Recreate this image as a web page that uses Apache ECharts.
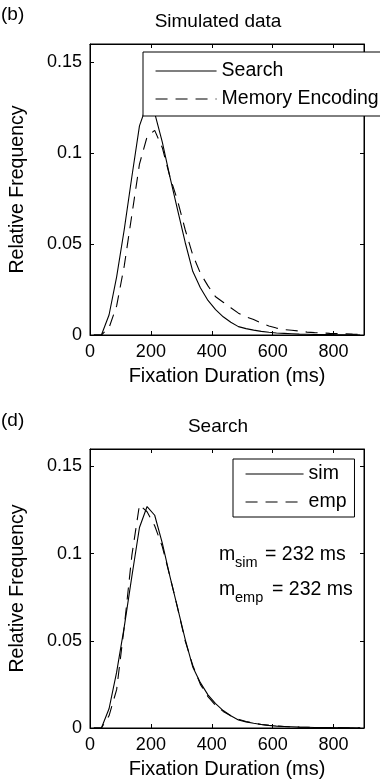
<!DOCTYPE html>
<html>
<head>
<meta charset="utf-8">
<script src="https://cdn.jsdelivr.net/npm/echarts@6/dist/echarts.min.js"></script>
<style>
    html, body { margin: 0; padding: 0; background: #fff; }
    #id-div-chart { width: 380px; height: 780px; }
</style>
</head>
<body>
<div id="id-div-chart"></div>
<script>
// bin centers (ms)
const durations = [12.5, 37.5, 62.5, 87.5, 112.5, 137.5, 162.5, 187.5, 212.5, 237.5,
    262.5, 287.5, 312.5, 337.5, 362.5, 387.5, 412.5, 437.5, 462.5, 487.5,
    512.5, 537.5, 562.5, 587.5, 612.5, 637.5, 662.5, 687.5, 712.5, 737.5,
    762.5, 787.5, 812.5, 837.5, 862.5, 887.5]

// simulated search fixations (panel b solid, panel d sim)
const searchSim = [0, 0, 0.011, 0.032, 0.058, 0.087, 0.115, 0.127, 0.122, 0.106,
    0.087, 0.069, 0.051, 0.035, 0.026, 0.019, 0.014, 0.010, 0.007, 0.0046,
    0.0035, 0.0027, 0.002, 0.0015, 0.0011, 0.0009, 0.0007, 0.0005, 0.0004, 0.0003,
    0.0002, 0.0002, 0.0001, 0.0001, 0.0001, 0]

// simulated memory encoding fixations (panel b dashed)
const memorySim = [0, 0, 0.004, 0.016, 0.038, 0.066, 0.094, 0.109, 0.1125, 0.103,
    0.087, 0.074, 0.058, 0.044, 0.034, 0.027, 0.021, 0.018, 0.015, 0.012,
    0.010, 0.0085, 0.0065, 0.005, 0.0038, 0.003, 0.0026, 0.0022, 0.0016, 0.0013,
    0.0011, 0.0009, 0.0008, 0.0007, 0.0005, 0.0004]

// empirical search fixations (panel d dashed)
const searchEmp = [0, 0, 0.007, 0.022, 0.058, 0.099, 0.128, 0.124, 0.116, 0.104,
    0.087, 0.069, 0.050, 0.036, 0.025, 0.018, 0.013, 0.0095, 0.007, 0.005,
    0.0037, 0.0028, 0.002, 0.0015, 0.0012, 0.0009, 0.0007, 0.0005, 0.0004, 0.0003,
    0.0003, 0.0002, 0.0002, 0.0001, 0.0001, 0.0001]

const xTicks = [0, 200, 400, 600, 800]
const yTicks = [0, 0.05, 0.1, 0.15]

const font = 'Liberation Sans, Arial, Helvetica, sans-serif'
const dash = [12, 8]

const pairs = function (xs, ys) {
    let r = []
    for (let i = 0; i < xs.length; i++) {
        r.push([xs[i], ys[i]])
    }
    return r
}

// bottom/left axes with labels, top/right just for ticks
const xAxisFor = function (grid, pos) {
    let main = pos === 'bottom'
    return {
        gridIndex: grid,
        type: 'value',
        position: pos,
        min: xTicks[0],
        max: 900,
        interval: xTicks[1] - xTicks[0],
        axisLine: { show: true, onZero: false, lineStyle: { color: '#000', width: 1 } },
        axisTick: { show: true, inside: true, length: 4, lineStyle: { color: '#000' } },
        axisLabel: {
            show: main,
            showMaxLabel: false,
            margin: 8,
            fontSize: 18,
            color: '#000',
            fontFamily: font,
        },
        splitLine: { show: false },
        name: main ? 'Fixation Duration (ms)' : '',
        nameLocation: 'middle',
        nameGap: 31,
        nameTextStyle: { fontSize: 20, color: '#000', fontFamily: font },
    }
}

const yAxisFor = function (grid, pos) {
    let main = pos === 'left'
    return {
        gridIndex: grid,
        type: 'value',
        position: pos,
        min: yTicks[0],
        max: 0.16,
        interval: yTicks[1] - yTicks[0],
        axisLine: { show: true, onZero: false, lineStyle: { color: '#000', width: 1 } },
        axisTick: { show: true, inside: true, length: 4, lineStyle: { color: '#000' } },
        axisLabel: {
            show: main,
            showMaxLabel: false,
            margin: 8,
            fontSize: 18,
            color: '#000',
            fontFamily: font,
        },
        splitLine: { show: false },
        name: main ? 'Relative Frequency' : '',
        nameLocation: 'middle',
        nameGap: 62,
        nameTextStyle: { fontSize: 19.5, color: '#000', fontFamily: font },
    }
}

const lineSeries = function (name, ys, axis, dashed) {
    return {
        name: name,
        type: 'line',
        xAxisIndex: axis,
        yAxisIndex: axis,
        data: pairs(durations, ys),
        symbol: 'none',
        showSymbol: false,
        animation: false,
        lineStyle: { color: '#000', width: 1.1, type: dashed ? dash : 'solid' },
        itemStyle: { color: '#000' },
    }
}

// legend: plain line sample, no marker
const legendFor = function (names, left, top, itemWidth, padding) {
    return {
        orient: 'vertical',
        left: left,
        top: top,
        data: names,
        itemWidth: itemWidth,
        itemHeight: 18,
        itemGap: 8,
        padding: padding,
        borderColor: '#000',
        borderWidth: 1,
        borderRadius: 0,
        backgroundColor: '#fff',
        selectedMode: false,
        itemStyle: { color: 'transparent', borderWidth: 0, opacity: 0 },
        lineStyle: { color: '#000', width: 1.1 },
        textStyle: { fontSize: 19.5, color: '#000', fontFamily: font },
    }
}

const titleFor = function (text, left, top, align) {
    return {
        text: text,
        left: left,
        top: top,
        padding: 0,
        textAlign: align,
        textStyle: { fontSize: 19, fontWeight: 'normal', color: '#000', fontFamily: font },
    }
}

// m_sub = 232 ms
const meanLabel = function (sub, y, eqX) {
    let st = { fill: '#000', fontFamily: font }
    return [
        { type: 'text', left: 219, top: y, style: Object.assign({ text: 'm', fontSize: 19.5 }, st) },
        { type: 'text', left: 235, top: y + 10, style: Object.assign({ text: sub, fontSize: 14.5 }, st) },
        { type: 'text', left: eqX, top: y, style: Object.assign({ text: '= 232 ms', fontSize: 19.5 }, st) },
    ]
}

const main = function () {
    let chart = echarts.init(document.querySelector('#id-div-chart'))
    let option = {
        backgroundColor: '#fff',
        animation: false,
        title: [
            titleFor('(b)', 1, 5, 'left'),
            titleFor('Simulated data', 218, 12, 'center'),
            titleFor('(d)', 1, 411, 'left'),
            titleFor('Search', 218, 417, 'center'),
        ],
        grid: [
            { left: 73, top: 44, width: 291, height: 291, show: true, borderColor: '#000', borderWidth: 1, backgroundColor: 'transparent' },
            { left: 73, top: 449, width: 291, height: 291, show: true, borderColor: '#000', borderWidth: 1, backgroundColor: 'transparent' },
        ],
        xAxis: [xAxisFor(0, 'bottom'), xAxisFor(1, 'bottom'), xAxisFor(0, 'top'), xAxisFor(1, 'top')],
        yAxis: [yAxisFor(0, 'left'), yAxisFor(1, 'left'), yAxisFor(0, 'right'), yAxisFor(1, 'right')],
        legend: [
            legendFor(['Search', 'Memory Encoding'], 143, 52, 61, [9, 12, 7, 12]),
            legendFor(['sim', 'emp'], 233, 459, 58, [5, 8, 5, 12]),
        ],
        series: [
            lineSeries('Search', searchSim, 0, false),
            lineSeries('Memory Encoding', memorySim, 0, true),
            lineSeries('sim', searchSim, 1, false),
            lineSeries('emp', searchEmp, 1, true),
        ],
        graphic: meanLabel('sim', 545, 265).concat(meanLabel('emp', 580, 272)),
    }
    chart.setOption(option)
}

main()
</script>
</body>
</html>
